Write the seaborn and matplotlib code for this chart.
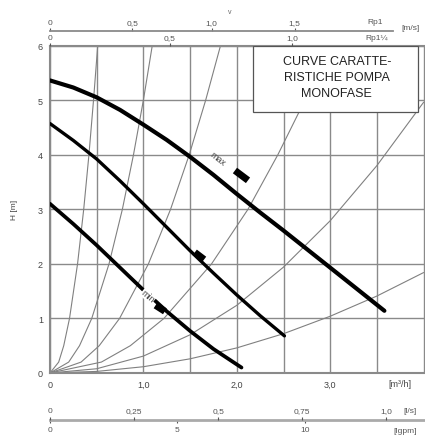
import numpy as np
import pandas as pd
import seaborn as sns
import matplotlib.pyplot as plt
from matplotlib.patches import Rectangle

# pump curves (Q in m3/h, H in m)
q_max = [0, 0.25, 0.5, 0.75, 1.0, 1.25, 1.5, 1.75, 2.0, 2.25, 2.5, 2.75, 3.0, 3.25, 3.58]
h_max = [5.36, 5.23, 5.05, 4.82, 4.55, 4.27, 3.96, 3.63, 3.28, 2.94, 2.61, 2.27, 1.93, 1.59, 1.14]
q_mid = [0, 0.25, 0.5, 0.75, 1.0, 1.25, 1.5, 1.75, 2.0, 2.25, 2.51]
h_mid = [4.57, 4.26, 3.92, 3.52, 3.10, 2.67, 2.24, 1.83, 1.43, 1.05, 0.68]
q_min = [0, 0.25, 0.5, 0.75, 1.0, 1.25, 1.5, 1.75, 2.05]
h_min = [3.10, 2.73, 2.34, 1.93, 1.52, 1.13, 0.77, 0.44, 0.10]

# thin system curves
h_levels = [0, 0.2, 0.5, 1, 2, 3, 4, 5, 6, 7]
sys_q1 = [0, 0.093, 0.147, 0.209, 0.295, 0.361, 0.417, 0.466, 0.511, 0.55]
sys_q2 = [0, 0.2, 0.316, 0.447, 0.632, 0.775, 0.894, 1.0, 1.095, 1.18]
sys_q3 = [0, 0.333, 0.527, 0.745, 1.054, 1.291, 1.491, 1.667, 1.826, 1.97]
sys_q4 = [0, 0.55, 0.86, 1.22, 1.73, 2.12, 2.44, 2.73, 2.99, 3.23]
q_levels = [0, 0.5, 1.0, 1.5, 2.0, 2.5, 3.0, 3.5, 4.0]
sys_h5 = [0, 0.078, 0.31, 0.70, 1.24, 1.94, 2.79, 3.80, 4.96]
sys_h6 = [0, 0.029, 0.115, 0.26, 0.46, 0.72, 1.04, 1.41, 1.84]

# scales
v1_pos = [0, 0.88, 1.73, 2.62]
v1_labels = ['0', '0,5', '1,0', '1,5']
v2_pos = [0, 1.28, 2.59]
v2_labels = ['0', '0,5', '1,0']
ls_vals = [0, 0.25, 0.5, 0.75, 1.0]
ls_labels = ['0', '0,25', '0,5', '0,75', '1,0']
gpm_vals = [0, 5, 10]

# speed tabs on the curves
tabs = [((1.98, 2.12), (3.71, 3.53)), ((1.55, 1.65), (2.21, 2.08)), ((1.13, 1.23), (1.24, 1.13))]

sns.set_style('white')
plt.rcParams['font.family'] = ['Liberation Sans', 'DejaVu Sans']

W, H = 425, 439
fig = plt.figure(figsize=(W / 100, H / 100), dpi=100)
ax = fig.add_axes([50 / W, 65 / H, 375 / W, 327.5 / H])
XMAX = 375 / 93.4

grey = '#8a8a8a'
thin = '#808080'

for q in [sys_q1, sys_q2, sys_q3, sys_q4]:
    sns.lineplot(x=q, y=h_levels, ax=ax, color=thin, lw=0.8, sort=False, estimator=None, zorder=2)
for h in [sys_h5, sys_h6]:
    sns.lineplot(x=q_levels, y=h, ax=ax, color=thin, lw=0.8, sort=False, estimator=None, zorder=2)

pump = pd.concat([
    pd.DataFrame({'Q': q_max, 'H': h_max, 'v': 'max'}),
    pd.DataFrame({'Q': q_mid, 'H': h_mid, 'v': 'mid'}),
    pd.DataFrame({'Q': q_min, 'H': h_min, 'v': 'min'}),
])
for v, lw in [('max', 3.0), ('mid', 2.4), ('min', 2.7)]:
    d = pump[pump['v'] == v]
    sns.lineplot(data=d, x='Q', y='H', ax=ax, color='black', lw=lw, sort=False,
                 estimator=None, zorder=4)
for qs, hs in tabs:
    ax.plot(qs, hs, color='black', lw=5, solid_capstyle='butt', zorder=5)

ax.text(1.79, 3.93, 'max', rotation=-38, fontsize=6.5, color='#444', ha='center', va='center', zorder=6)
ax.text(1.05, 1.41, 'min', rotation=-40, fontsize=6.5, color='#444', ha='center', va='center', zorder=6,
        bbox=dict(facecolor='white', edgecolor='none', pad=0.2))

ax.set_xlim(0, XMAX)
ax.set_ylim(0, 6)
ax.set_xticks(np.arange(0, 4.01, 0.5))
ax.set_xticklabels(['0', '', '1,0', '', '2,0', '', '3,0', '', ''])
ax.set_yticks(range(7))
ax.grid(True, color=grey, lw=1.0)
ax.tick_params(length=0, labelsize=6.5, colors='#444', pad=5)
ax.spines['right'].set_visible(False)
for s in ['left', 'bottom', 'top']:
    ax.spines[s].set_color(grey)
    ax.spines[s].set_linewidth(1.5)
ax.set_xlabel('')
ax.set_ylabel('H [m]', fontsize=6, color='#444', labelpad=14)
ax.text(3.75, -0.2, '[m³/h]', fontsize=6.5, color='#444', ha='center', va='center')

# title box
ax.add_patch(Rectangle((2.17, 4.79), 1.77, 1.21, facecolor='white', edgecolor='#555', lw=0.9, zorder=7))
ax.text(3.07, 5.42, 'CURVE CARATTE-\nRISTICHE POMPA\nMONOFASE', fontsize=9, color='#222',
        ha='center', va='center', linespacing=1.45, zorder=8)

# velocity scale on top of the axes (Rp1 1/4)
ax2 = ax.twiny()
ax2.set_xlim(0, XMAX)
ax2.set_xticks(v2_pos)
ax2.set_xticklabels(v2_labels)
ax2.tick_params(length=2, labelsize=6, colors='#555', pad=1)
for s in ax2.spines.values():
    s.set_visible(False)
ax2.grid(False)
fig.text(377 / W, 1 - 38 / H, 'Rp1¼', fontsize=6, color='#555', ha='center', va='center')

# upper velocity scale (Rp1)
axv = fig.add_axes([50 / W, 1 - 31.7 / H, 343 / W, 0.0001])
axv.set_xlim(0, 343 / 93.4)
axv.set_yticks([])
axv.set_xticks(v1_pos)
axv.set_xticklabels(v1_labels)
axv.tick_params(top=True, labeltop=True, bottom=False, labelbottom=False, length=2,
                labelsize=6, colors='#555', pad=1)
for s in ['left', 'right', 'top']:
    axv.spines[s].set_visible(False)
axv.spines['bottom'].set_color(grey)
axv.spines['bottom'].set_linewidth(1.3)
fig.text(375 / W, 1 - 23 / H, 'Rp1', fontsize=6, color='#555', ha='center', va='center')
fig.text(410 / W, 1 - 28 / H, '[m/s]', fontsize=6, color='#555', ha='center', va='center')
fig.text(230 / W, 1 - 12 / H, 'v', fontsize=5, color='#666', ha='center', va='center')

# flow scale below: l/s above the line, Igpm below
axf = fig.add_axes([50 / W, 18 / H, 375 / W, 0.0001])
axf.set_xlim(0, XMAX)
axf.set_yticks([])
axf.set_xticks([g * 0.2728 for g in gpm_vals])
axf.set_xticklabels([str(g) for g in gpm_vals])
axf.tick_params(length=2, labelsize=6, colors='#555', pad=2)
for s in ['left', 'right', 'top']:
    axf.spines[s].set_visible(False)
axf.spines['bottom'].set_color('#aaa')
axf.spines['bottom'].set_linewidth(2)
axf2 = axf.twiny()
axf2.set_xlim(0, XMAX)
axf2.set_xticks([v * 3.6 for v in ls_vals])
axf2.set_xticklabels(ls_labels)
axf2.tick_params(length=2, labelsize=6, colors='#555', pad=2)
for s in axf2.spines.values():
    s.set_visible(False)
fig.text(410 / W, 1 - 412 / H, '[l/s]', fontsize=6, color='#555', ha='center', va='center')
fig.text(405 / W, 1 - 432 / H, '[Igpm]', fontsize=6, color='#555', ha='center', va='center')

fig.savefig('out.png', dpi=100)
